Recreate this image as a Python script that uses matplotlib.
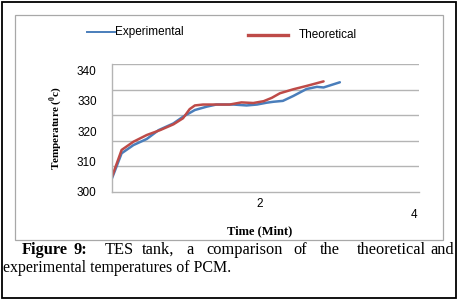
import matplotlib
matplotlib.use("Agg")
import matplotlib.pyplot as plt
from matplotlib.lines import Line2D
from matplotlib.patches import Rectangle
from matplotlib.transforms import blended_transform_factory

# -----------------------------------------------------------------------------
# data (time in minutes, temperature)
# -----------------------------------------------------------------------------
t_exp = [0.0, 0.13, 0.29, 0.47, 0.63, 0.83, 0.96, 1.12, 1.28, 1.41, 1.64, 1.82,
         1.96, 2.09, 2.18, 2.31, 2.45, 2.63, 2.77, 2.86, 2.95, 3.08]
T_exp = [304.5, 312.7, 315.4, 317.4, 320.3, 322.5, 324.7, 326.9, 328.0, 328.7, 328.7, 328.4,
         328.7, 329.3, 329.6, 329.9, 331.5, 333.8, 334.5, 334.3, 335.0, 336.0]

t_theo = [0.0, 0.13, 0.29, 0.47, 0.65, 0.83, 0.96, 1.05, 1.12, 1.23, 1.59, 1.75, 1.91,
          2.05, 2.16, 2.27, 2.45, 2.63, 2.86]
T_theo = [305.0, 313.8, 316.5, 318.7, 320.3, 322.2, 324.2, 327.2, 328.4, 328.7, 328.7, 329.4, 329.2,
          329.8, 330.9, 332.4, 333.7, 334.8, 336.3]

y_ticks = [300, 310, 320, 330, 340]
x_labels = [("2", 2.0, -0.09), ("4", 4.08, -0.18)]

W, H = 459, 301
BLUE = "#4a7ebb"
RED = "#be4b48"
GRID = "#b4b4b4"


def fx(px):
    return px / W


def fy(py):
    return 1 - py / H


fig = plt.figure(figsize=(W / 100, H / 100), dpi=100)

# outer black frame and inner grey chart frame
fig.patches.append(Rectangle((fx(2), fy(298)), fx(454), 296 / H, transform=fig.transFigure,
                             fill=False, edgecolor="black", linewidth=1.3))
fig.patches.append(Rectangle((fx(15), fy(240)), fx(428), 225 / H, transform=fig.transFigure,
                             fill=False, edgecolor="#a8a8a8", linewidth=0.9))

ax = fig.add_axes([fx(112), fy(192), fx(307), 128 / H])
ax.plot(t_exp, T_exp, color=BLUE, linewidth=1.8, solid_capstyle="round")
ax.plot(t_theo, T_theo, color=RED, linewidth=1.8, solid_capstyle="round")

ax.set_xlim(0, 4.15)
ax.set_ylim(300, 342)

# gridlines at equal fifths of the axis, labels at every 10 units
ax.set_yticks([300 + i * 42 / 5 for i in range(6)], minor=True)
ax.grid(which="minor", axis="y", color=GRID, linewidth=1.0)
ax.set_yticks(y_ticks)
ax.set_yticklabels([str(v) for v in y_ticks], family="Liberation Sans", fontsize=8.5)
ax.tick_params(axis="y", which="both", length=0, pad=11)
ax.set_xticks([])
for side in ["top", "right"]:
    ax.spines[side].set_visible(False)
for side in ["left", "bottom"]:
    ax.spines[side].set_color(GRID)
    ax.spines[side].set_linewidth(1.0)

trans = blended_transform_factory(ax.transData, ax.transAxes)
for lab, xv, yv in x_labels:
    ax.text(xv, yv, lab, transform=trans, ha="center", va="center",
            family="Liberation Sans", fontsize=8.5)

# axis titles
fig.text(fx(56), fy(128), r"Temperature ($^{\mathregular{0}}$c)", rotation=90, ha="center", va="center",
         family="Liberation Serif", fontweight="bold", fontsize=8)
fig.text(fx(260), fy(231), "Time (Mint)", ha="center", va="center",
         family="Liberation Serif", fontweight="bold", fontsize=9)

# legend
fig.add_artist(Line2D([fx(87), fx(115)], [fy(32), fy(32)], color=BLUE, linewidth=1.4))
fig.text(fx(115), fy(32), "Experimental", ha="left", va="center",
         family="Liberation Sans", fontsize=8.5)
fig.add_artist(Line2D([fx(248), fx(288)], [fy(35), fy(35)], color=RED, linewidth=2.4))
fig.text(fx(299), fy(35), "Theoretical", ha="left", va="center",
         family="Liberation Sans", fontsize=8.5)

# caption (justified first line, words placed one by one)
words = [("Figure", 21.7, True), ("9:", 74, True), ("TES", 105, False), ("tank,", 142.3, False),
         ("a", 186, False), ("comparison", 206.7, False), ("of", 293.3, False), ("the", 320, False),
         ("theoretical", 356.7, False), ("and", 430, False)]
for w, xp, bold in words:
    fig.text(fx(xp), fy(250), w, ha="left", va="center", family="Liberation Serif",
             fontweight="bold" if bold else "normal", fontsize=11.8)
fig.text(fx(3), fy(268), "experimental temperatures of PCM.", ha="left", va="center",
         family="Liberation Serif", fontsize=11.5)

fig.savefig("out.png", dpi=100, facecolor="white")
